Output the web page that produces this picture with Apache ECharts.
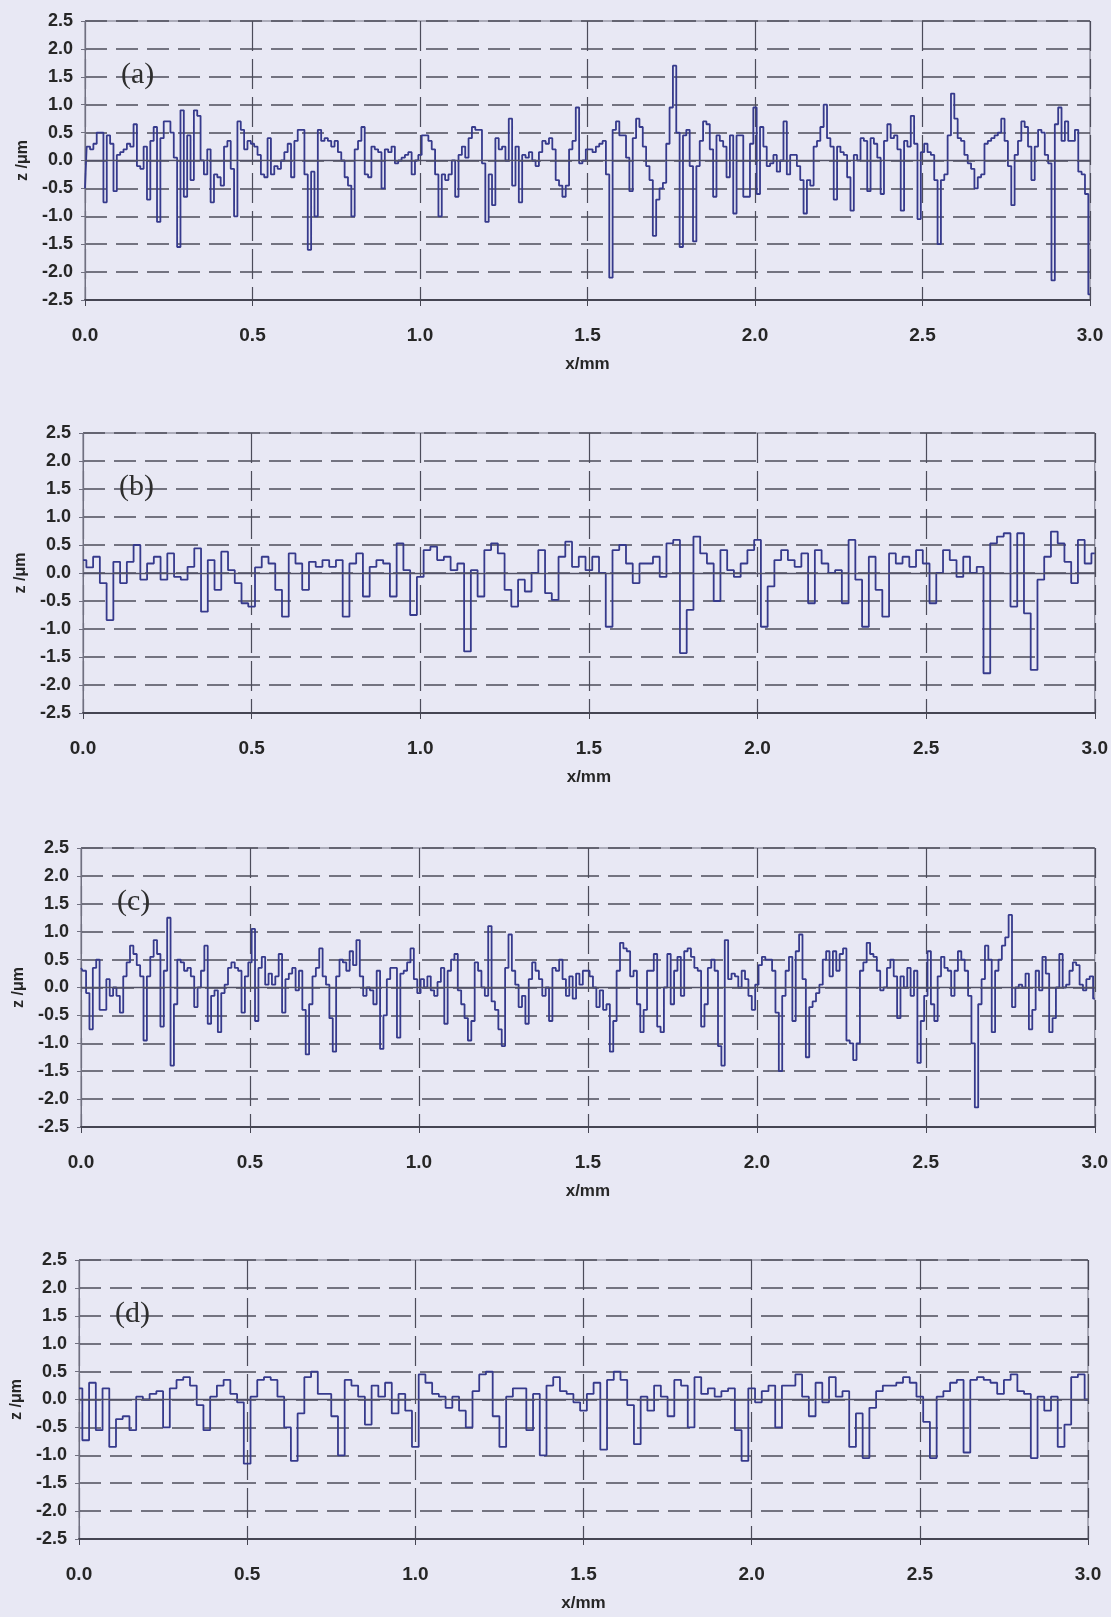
<!DOCTYPE html>
<html>
<head>
<meta charset="utf-8">
<script src="https://cdn.jsdelivr.net/npm/echarts@6/dist/echarts.min.js"></script>
<style>
  html, body { margin: 0; padding: 0; background: #e8e8f4; }
  #main { width: 1111px; height: 1617px; }
</style>
</head>
<body>
<div id="main"></div>
<script>
// panel labels and axis titles
const panelLabels = ['(a)', '(b)', '(c)', '(d)'];
const xTitle = 'x/mm';
const yTitle = 'z /\u03bcm';

// sampling step along x (mm) for each profile
const stepA = 0.01, stepB = 0.02, stepC = 0.01, stepD = 0.02;

// profile heights z (µm)
const zA = [
  -0.50, 0.25, 0.20, 0.30, 0.50, 0.50, -0.75, 0.45, 0.30, -0.55,
  0.10, 0.15, 0.20, 0.30, 0.25, 0.65, -0.10, -0.15, 0.25, -0.70,
  0.35, 0.60, -1.10, 0.40, 0.70, 0.70, 0.50, 0.05, -1.55, 0.90,
  -0.65, 0.45, -0.35, 0.90, 0.80, 0.00, -0.25, 0.20, -0.75, -0.25,
  -0.30, -0.45, 0.25, 0.35, -0.15, -1.00, 0.70, 0.55, 0.20, 0.35,
  0.30, 0.25, 0.10, -0.25, -0.30, 0.40, -0.25, -0.10, -0.15, 0.00,
  0.15, 0.30, -0.30, 0.35, 0.55, 0.55, -0.25, -1.60, -0.20, -1.00,
  0.55, 0.35, 0.40, 0.35, 0.25, 0.35, 0.15, 0.00, -0.30, -0.45,
  -1.00, 0.20, 0.35, 0.60, -0.25, -0.30, 0.25, 0.20, 0.15, -0.50,
  0.20, 0.15, 0.25, -0.05, 0.00, 0.05, 0.10, 0.15, -0.25, 0.00,
  0.10, 0.45, 0.45, 0.35, 0.20, -0.25, -1.00, -0.25, -0.35, -0.25,
  0.00, -0.65, 0.10, 0.25, 0.05, 0.40, 0.60, 0.55, 0.55, -0.05,
  -1.10, -0.25, -0.80, 0.40, 0.20, 0.25, 0.00, 0.75, -0.45, 0.25,
  -0.75, 0.10, 0.05, 0.15, 0.00, -0.10, 0.15, 0.35, 0.30, 0.40,
  0.20, -0.35, -0.45, -0.65, -0.45, 0.20, 0.35, 0.95, -0.05, 0.00,
  0.20, 0.20, 0.15, 0.25, 0.30, 0.35, -0.25, -2.10, 0.55, 0.70,
  0.45, 0.45, 0.05, -0.55, 0.40, 0.75, 0.60, 0.25, -0.10, -0.35,
  -1.35, -0.70, -0.50, -0.40, 0.30, 0.95, 1.70, 0.50, -1.55, 0.45,
  0.55, -0.10, -1.45, -0.10, 0.35, 0.70, 0.65, 0.20, -0.65, 0.45,
  0.35, 0.25, -0.30, 0.45, -0.95, 0.45, 0.45, -0.65, -0.65, 0.30,
  0.95, -0.60, 0.60, 0.25, -0.10, -0.05, 0.10, -0.20, 0.00, 0.70,
  -0.25, 0.10, 0.10, -0.10, -0.35, -0.95, -0.35, -0.45, 0.25, 0.35,
  0.60, 1.00, 0.40, 0.25, -0.70, 0.25, 0.15, 0.10, -0.30, -0.90,
  0.10, 0.00, 0.40, 0.35, -0.55, 0.40, 0.30, 0.05, -0.60, 0.35,
  0.65, 0.40, 0.45, 0.20, -0.90, 0.35, 0.25, 0.80, 0.30, -1.05,
  0.15, 0.30, 0.15, 0.10, -0.35, -1.50, -0.35, -0.25, 0.45, 1.20,
  0.75, 0.40, 0.35, 0.10, -0.05, -0.15, -0.50, -0.30, -0.25, 0.30,
  0.35, 0.40, 0.45, 0.50, 0.75, 0.35, -0.10, -0.80, 0.10, 0.35,
  0.70, 0.60, 0.25, -0.35, 0.25, 0.55, 0.50, 0.10, -0.05, -2.15,
  0.65, 0.95, 0.35, 0.70, 0.35, 0.35, 0.55, -0.20, -0.25, -0.60,
  -2.40
];

const zB = [
  0.23, 0.10, 0.29, -0.18, -0.84, 0.20, -0.18, 0.20, 0.50, -0.12,
  0.17, 0.29, -0.12, 0.35, -0.07, -0.12, 0.11, 0.44, -0.69, 0.23,
  -0.30, 0.38, 0.05, -0.18, -0.54, -0.60, 0.10, 0.29, 0.17, -0.30,
  -0.78, 0.35, 0.17, -0.30, 0.20, 0.11, 0.23, 0.11, 0.23, -0.78,
  0.17, 0.35, -0.42, 0.11, 0.23, 0.17, -0.42, 0.53, 0.05, -0.75,
  -0.07, 0.41, 0.47, 0.23, 0.29, 0.05, 0.17, -1.40, 0.05, -0.42,
  0.41, 0.53, 0.35, -0.30, -0.60, -0.12, -0.33, 0.00, 0.41, -0.36,
  -0.48, 0.29, 0.56, 0.11, 0.29, 0.05, 0.29, 0.00, -0.96, 0.41,
  0.50, 0.17, -0.18, 0.17, 0.17, 0.29, -0.07, 0.53, 0.59, -1.43,
  -0.66, 0.65, 0.35, 0.17, -0.50, 0.41, 0.05, -0.07, 0.17, 0.41,
  0.59, -0.96, -0.24, 0.23, 0.41, 0.23, 0.11, 0.35, -0.54, 0.41,
  0.17, 0.00, 0.05, -0.54, 0.59, -0.12, -0.96, 0.29, -0.30, -0.78,
  0.35, 0.17, 0.29, 0.11, 0.41, 0.17, -0.54, 0.00, 0.41, 0.23,
  -0.07, 0.29, 0.00, 0.11, -1.79, 0.53, 0.65, 0.71, -0.60, 0.71,
  -0.72, -1.73, -0.12, 0.29, 0.74, 0.53, 0.20, -0.18, 0.59, 0.17,
  0.35
];

const zC = [
  0.35, 0.30, -0.10, -0.75, 0.35, 0.50, -0.40, -0.40, 0.15, -0.15,
  0.00, -0.15, -0.45, 0.20, 0.45, 0.75, 0.60, 0.40, 0.20, -0.95,
  0.20, 0.55, 0.85, 0.60, -0.70, 0.30, 1.25, -1.40, -0.30, 0.50,
  0.45, 0.30, 0.35, 0.20, -0.35, 0.00, 0.30, 0.75, -0.65, -0.15,
  -0.05, -0.80, -0.10, 0.05, 0.35, 0.45, 0.35, 0.30, -0.45, 0.20,
  0.45, 1.05, -0.60, 0.35, 0.55, 0.05, 0.25, 0.05, 0.20, 0.60,
  -0.45, 0.15, 0.25, 0.35, -0.05, 0.30, -0.40, -1.20, -0.30, 0.20,
  0.35, 0.70, 0.20, 0.05, -0.55, -1.15, 0.20, 0.50, 0.45, 0.30,
  0.65, 0.40, 0.85, 0.20, -0.15, 0.00, -0.05, -0.30, 0.30, -1.10,
  -0.50, 0.15, 0.35, 0.35, -0.90, 0.25, 0.30, 0.45, 0.70, 0.15,
  -0.10, 0.15, 0.00, 0.20, -0.05, -0.15, 0.10, 0.35, -0.65, 0.30,
  0.50, 0.60, -0.05, -0.30, -0.55, -0.95, -0.60, 0.45, 0.30, 0.00,
  -0.15, 1.10, -0.25, -0.40, -0.75, -1.05, 0.35, 0.95, 0.30, 0.05,
  -0.35, -0.15, -0.65, 0.15, 0.45, 0.30, 0.15, -0.15, 0.00, -0.60,
  0.35, 0.30, 0.50, 0.15, -0.15, 0.20, -0.20, 0.25, 0.05, 0.30,
  0.30, 0.20, 0.00, -0.35, -0.05, -0.40, -0.30, -1.15, -0.60, 0.30,
  0.80, 0.70, 0.65, 0.20, 0.30, -0.30, -0.80, -0.40, 0.30, 0.30,
  0.60, -0.70, -0.80, 0.00, 0.60, -0.30, 0.30, 0.55, -0.15, 0.65,
  0.70, 0.55, 0.35, 0.30, -0.70, -0.30, 0.35, 0.50, 0.30, -1.05,
  -1.40, 0.85, 0.15, 0.25, 0.20, 0.00, 0.30, 0.15, -0.15, -0.40,
  0.05, 0.40, 0.55, 0.50, 0.50, 0.30, -0.45, -1.50, -0.15, 0.30,
  0.55, -0.60, 0.65, 0.95, 0.15, -1.25, -0.35, -0.25, -0.10, 0.05,
  0.50, 0.65, 0.20, 0.65, 0.30, 0.60, 0.70, -0.95, -1.00, -1.30,
  -1.00, 0.30, 0.45, 0.80, 0.60, 0.55, 0.30, -0.05, 0.00, 0.35,
  0.50, 0.20, -0.55, 0.20, 0.00, 0.35, -0.15, 0.30, -1.35, -0.60,
  -0.15, 0.65, -0.30, -0.60, 0.20, 0.55, 0.35, 0.30, -0.15, 0.30,
  0.65, 0.50, 0.30, -0.15, -1.00, -2.15, -0.30, 0.15, 0.75, 0.50,
  -0.80, 0.30, 0.50, 0.75, 0.90, 1.30, -0.35, 0.00, 0.05, 0.00,
  0.25, -0.75, -0.40, 0.30, -0.05, 0.55, 0.25, -0.80, -0.55, 0.00,
  0.60, 0.00, 0.05, 0.30, 0.45, 0.40, 0.05, -0.05, 0.15, 0.20,
  -0.20
];

const zD = [
  0.20, -0.73, 0.30, -0.55, 0.20, -0.85, -0.35, -0.30, -0.55, 0.05,
  0.00, 0.10, 0.15, -0.50, 0.20, 0.35, 0.40, 0.25, -0.10, -0.55,
  0.05, 0.25, 0.35, 0.10, -0.05, -1.15, 0.05, 0.35, 0.40, 0.35,
  0.05, -0.50, -1.10, -0.25, 0.40, 0.50, 0.10, 0.10, -0.30, -1.00,
  0.35, 0.25, 0.05, -0.45, 0.25, 0.05, 0.30, -0.25, 0.10, -0.20,
  -0.85, 0.45, 0.30, 0.10, 0.05, -0.15, 0.05, -0.20, -0.50, 0.15,
  0.45, 0.50, -0.30, -0.85, 0.05, 0.20, 0.20, -0.55, 0.10, -1.00,
  0.25, 0.40, 0.15, 0.10, -0.05, -0.20, 0.10, 0.30, -0.90, 0.35,
  0.50, 0.35, -0.10, -0.80, 0.05, -0.20, 0.25, 0.05, -0.30, 0.35,
  0.25, -0.50, 0.40, 0.10, 0.20, 0.05, 0.15, 0.20, -0.55, -1.10,
  0.20, -0.05, 0.15, 0.25, -0.50, 0.25, 0.25, 0.45, 0.05, -0.30,
  0.30, -0.05, 0.40, 0.05, 0.15, -0.85, -0.25, -1.05, -0.15, 0.15,
  0.25, 0.25, 0.30, 0.40, 0.30, 0.05, -0.40, -1.05, 0.05, 0.15,
  0.30, 0.35, -0.95, 0.35, 0.40, 0.35, 0.30, 0.10, 0.35, 0.45,
  0.15, 0.10, -1.05, 0.05, -0.20, 0.05, -0.85, -0.45, 0.40, 0.45,
  0.00
];

const profiles = [
  { z: zA, step: stepA },
  { z: zB, step: stepB },
  { z: zC, step: stepC },
  { z: zD, step: stepD }
];

// plot boxes of the four panels (px)
const boxes = [
  { left: 85, top: 21, width: 1005, height: 279 },
  { left: 83, top: 433, width: 1012, height: 280 },
  { left: 81, top: 848, width: 1014, height: 279 },
  { left: 79, top: 1260, width: 1009, height: 279 }
];

const LINE = '#363a8c';
const GRIDC = '#4c4c5a';
const sans = "'Liberation Sans', Arial, sans-serif";

const chart = echarts.init(document.getElementById('main'), null, { renderer: 'canvas' });

const grid = [], xAxis = [], yAxis = [], series = [], title = [];

boxes.forEach((b, i) => {
  grid.push({
    left: b.left, top: b.top, width: b.width, height: b.height,
    show: true, borderColor: '#707080', borderWidth: 1, backgroundColor: 'transparent'
  });
  xAxis.push({
    type: 'value', gridIndex: i, min: 0, max: 3, interval: 0.5,
    name: xTitle, nameLocation: 'middle', nameGap: 56,
    nameTextStyle: { fontFamily: sans, fontWeight: 'bold', fontSize: 17, color: '#262626' },
    axisLine: { onZero: false, lineStyle: { color: '#454552', width: 2 } },
    axisTick: { show: true, inside: false, length: 6, lineStyle: { color: '#454552' } },
    axisLabel: {
      margin: 26, fontFamily: sans, fontWeight: 'bold', fontSize: 19, color: '#262626',
      formatter: v => v.toFixed(1)
    },
    splitLine: { show: true, lineStyle: { color: GRIDC, type: [30, 8], width: 1.2 } }
  });
  yAxis.push({
    type: 'value', gridIndex: i, min: -2.5, max: 2.5, interval: 0.5,
    name: yTitle, nameLocation: 'middle', nameGap: 52, nameRotate: 90,
    nameTextStyle: { fontFamily: sans, fontWeight: 'bold', fontSize: 16, color: '#262626' },
    axisLine: { show: true, onZero: false, lineStyle: { color: '#707080', width: 1 } },
    axisTick: { show: true, inside: false, length: 4, lineStyle: { color: '#707080' } },
    axisLabel: {
      margin: 12, fontFamily: sans, fontWeight: 'bold', fontSize: 18, color: '#262626',
      formatter: v => v.toFixed(1)
    },
    splitLine: { show: true, lineStyle: { color: GRIDC, type: [22, 9], width: 1.5 } }
  });
  const p = profiles[i];
  series.push({
    type: 'line', xAxisIndex: i, yAxisIndex: i,
    step: 'middle', showSymbol: false, symbol: 'none',
    lineStyle: { color: LINE, width: 1.8 },
    data: p.z.map((z, k) => [k * p.step, z]),
    markLine: {
      silent: true, symbol: 'none', label: { show: false },
      lineStyle: { color: '#525266', type: 'solid', width: 1.4 },
      data: [{ yAxis: 0 }]
    },
    animation: false
  });
  title.push({
    text: panelLabels[i], left: b.left + 31, top: b.top + 34,
    textStyle: { fontFamily: "'Liberation Serif', 'Times New Roman', serif", fontWeight: 'normal', fontSize: 30, color: '#2e2e2e' }
  });
});

chart.setOption({
  backgroundColor: '#e8e8f4',
  animation: false,
  title: title,
  grid: grid,
  xAxis: xAxis,
  yAxis: yAxis,
  series: series
});
</script>
</body>
</html>
